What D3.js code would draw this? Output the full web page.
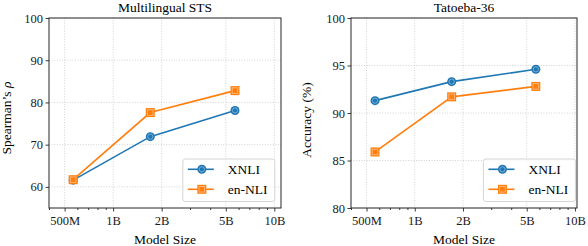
<!DOCTYPE html>
<html>
<head>
<meta charset="utf-8">
<script src="https://cdn.jsdelivr.net/npm/d3@7"></script>
<style>
  body { margin: 0; background: #fff; }
</style>
</head>
<body>
<div id="chart"></div>
<script>
// model sizes (parameters)
var sizes = [5.65e8, 1.7e9, 5.7e9];
var seriesNames = ['XNLI', 'en-NLI'];

var stsXnli = [61.6, 71.9, 78.1];
var stsEnNli = [61.7, 77.6, 82.8];
var tatXnli = [91.3, 93.3, 94.6];
var tatEnNli = [85.9, 91.7, 92.8];

var xTicks = [5e8, 1e9, 2e9, 5e9, 1e10];
var xTickLabels = ['500M', '1B', '2B', '5B', '10B'];
var stsTicks = [60, 70, 80, 90, 100];
var tatTicks = [80, 85, 90, 95, 100];

var W = 588, H = 246;
var colors = ['#1f77b4', '#ff7f0e'];
var light = ['#7fb2d9', '#ffb77a'];
var FS = 12.5, FS_LABEL = 13.5, FS_TITLE = 13.5;
var FONT = "'Liberation Serif', 'Times New Roman', 'DejaVu Serif', serif";

var svg = d3.select('#chart').append('svg')
  .attr('width', W).attr('height', H)
  .attr('font-family', FONT);

var putPanel = function(p) {
  var g = svg.append('g');
  var x = d3.scaleLog().domain(p.xDomain).range([p.left, p.right]);
  var y = d3.scaleLinear().domain(p.yDomain).range([p.bottom, p.top]);

  // grid
  g.selectAll('.gx').data(xTicks).enter().append('line')
    .attr('x1', function(d) { return x(d); }).attr('x2', function(d) { return x(d); })
    .attr('y1', p.top).attr('y2', p.bottom)
    .style('stroke', '#c8c8c8').style('stroke-width', 0.8).style('stroke-dasharray', '1,1.6');
  g.selectAll('.gy').data(p.yTicks).enter().append('line')
    .attr('y1', function(d) { return y(d); }).attr('y2', function(d) { return y(d); })
    .attr('x1', p.left).attr('x2', p.right)
    .style('stroke', '#c8c8c8').style('stroke-width', 0.8).style('stroke-dasharray', '1,1.6');

  // minor ticks
  var minor = [];
  [1e8, 1e9, 1e10].forEach(function(dec) {
    for (var k = 1; k < 10; k++) {
      var v = k * dec;
      if (xTicks.indexOf(v) < 0 && v >= p.xDomain[0] && v <= p.xDomain[1]) minor.push(v);
    }
  });

  var xAxis = d3.axisBottom(x).tickValues(xTicks)
    .tickFormat(function(d, i) { return xTickLabels[i]; })
    .tickSize(3.5).tickPadding(4.5);
  var xMinor = d3.axisBottom(x).tickValues(minor).tickFormat('').tickSize(2);
  var yAxis = d3.axisLeft(y).tickValues(p.yTicks).tickSize(3.5).tickPadding(2.5);

  var gx = g.append('g').attr('transform', 'translate(0,' + p.bottom + ')').call(xAxis);
  var gxm = g.append('g').attr('transform', 'translate(0,' + p.bottom + ')').call(xMinor);
  var gy = g.append('g').attr('transform', 'translate(' + p.left + ',0)').call(yAxis);
  [gx, gxm, gy].forEach(function(a) {
    a.attr('font-family', FONT).attr('font-size', FS);
    a.select('.domain').remove();
    a.selectAll('line').style('stroke', '#262626').style('stroke-width', 0.9);
    a.selectAll('text').style('fill', '#1a1a1a');
  });

  // frame
  g.append('rect')
    .attr('x', p.left).attr('y', p.top)
    .attr('width', p.right - p.left).attr('height', p.bottom - p.top)
    .style('fill', 'none').style('stroke', '#262626').style('stroke-width', 1);

  // series
  var line = d3.line().x(function(d) { return x(d[0]); }).y(function(d) { return y(d[1]); });
  p.series.forEach(function(vals, si) {
    var pts = sizes.map(function(s, i) { return [s, vals[i]]; });
    g.append('path').attr('d', line(pts))
      .style('fill', 'none').style('stroke', colors[si]).style('stroke-width', 1.6);
    pts.forEach(function(pt) { putMarker(g, si, x(pt[0]), y(pt[1])); });
  });

  // titles
  g.append('text').attr('x', (p.left + p.right) / 2).attr('y', 12)
    .attr('text-anchor', 'middle').attr('font-size', FS_TITLE).text(p.title);
  g.append('text').attr('x', (p.left + p.right) / 2).attr('y', 243.5)
    .attr('text-anchor', 'middle').attr('font-size', FS_LABEL).text('Model Size');
  g.append('text')
    .attr('transform', 'translate(' + p.yLabelX + ',' + p.yLabelY + ') rotate(-90)')
    .attr('text-anchor', 'middle').attr('font-size', FS_LABEL)
    .html(p.yLabel);

  // legend
  var lx1 = x(1e10) + 0.5, lx0 = lx1 - 92, ly0 = 159, ly1 = 201.5;
  g.append('rect').attr('x', lx0).attr('y', ly0)
    .attr('width', lx1 - lx0).attr('height', ly1 - ly0).attr('rx', 2.5)
    .style('fill', '#fff').style('fill-opacity', 0.8)
    .style('stroke', '#d0d0d0').style('stroke-width', 0.9);
  seriesNames.forEach(function(name, si) {
    var yy = 169.3 + si * 20;
    g.append('line').attr('x1', lx0 + 5).attr('x2', lx0 + 31).attr('y1', yy).attr('y2', yy)
      .style('stroke', colors[si]).style('stroke-width', 1.6);
    putMarker(g, si, lx0 + 19, yy);
    g.append('text').attr('x', lx0 + 45).attr('y', yy + 4.5)
      .attr('font-size', FS_LABEL).text(name);
  });
};

var putMarker = function(g, si, cx, cy) {
  if (si === 0) {
    g.append('circle').attr('cx', cx).attr('cy', cy).attr('r', 4.5)
      .style('fill', colors[0]);
    g.append('circle').attr('cx', cx).attr('cy', cy).attr('r', 2.6)
      .style('fill', 'none').style('stroke', light[0]).style('stroke-width', 0.9);
  } else {
    g.append('rect').attr('x', cx - 4.5).attr('y', cy - 4.5).attr('width', 9).attr('height', 9)
      .style('fill', colors[1]);
    g.append('rect').attr('x', cx - 2.8).attr('y', cy - 2.8).attr('width', 5.6).attr('height', 5.6)
      .style('fill', 'none').style('stroke', light[1]).style('stroke-width', 0.9);
  }
};

putPanel({
  left: 49, right: 281, top: 18, bottom: 208,
  xDomain: [4e8, 1.1e10], yDomain: [55, 100], yTicks: stsTicks,
  series: [stsXnli, stsEnNli], title: 'Multilingual STS',
  yLabel: 'Spearman\u2019s <tspan font-style="italic">\u03c1</tspan>', yLabelX: 11, yLabelY: 118
});
putPanel({
  left: 351, right: 577, top: 18, bottom: 208,
  xDomain: [4e8, 1.03e10], yDomain: [80, 100], yTicks: tatTicks,
  series: [tatXnli, tatEnNli], title: 'Tatoeba-36',
  yLabel: 'Accuracy (%)', yLabelX: 311, yLabelY: 120
});
</script>
</body>
</html>
